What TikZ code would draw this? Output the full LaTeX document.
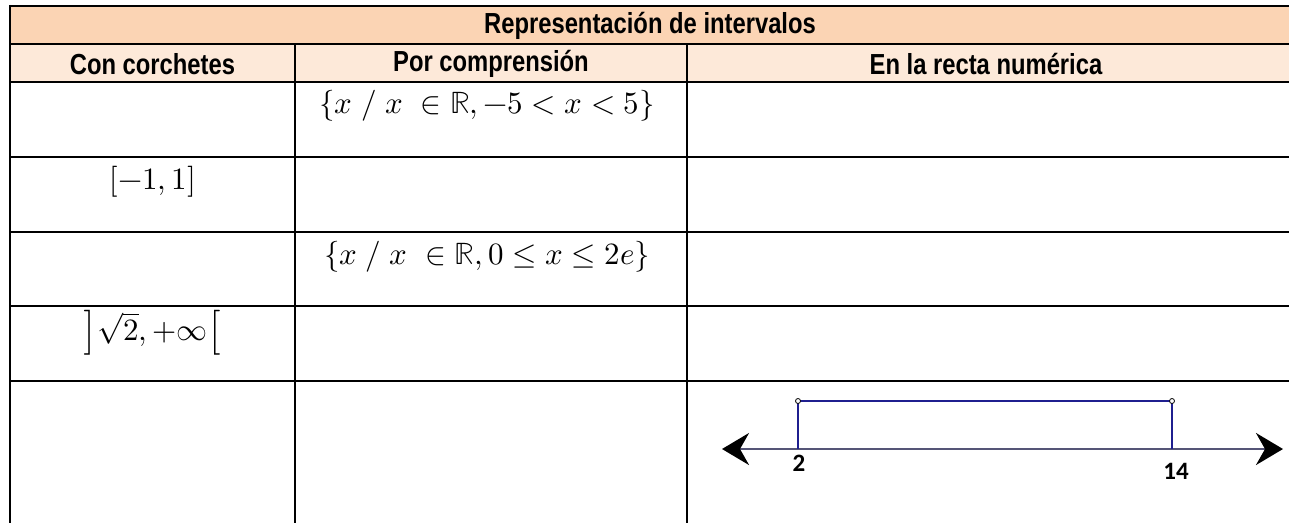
\documentclass[tikz,border=0pt]{standalone}
\usepackage{fontspec}
\usepackage{unicode-math}
\setmathfont{Latin Modern Math}
\usetikzlibrary{arrows.meta}
\newfontfamily\hdrfont{Liberation Sans}[FakeStretch=0.82]
\newfontfamily\lblfont{Carlito}
\definecolor{hdrA}{HTML}{FBD4B4}
\definecolor{hdrB}{HTML}{FDE9D9}
\definecolor{axisgray}{HTML}{555577}
\definecolor{ivblue}{HTML}{1F1F8F}
\tikzset{
  grid/.style={line width=2.5pt, black},
  hdr/.style={font=\hdrfont\bfseries\fontsize{29}{32}\selectfont, inner sep=0pt, anchor=center},
  mathtxt/.style={font=\fontsize{31}{34}\selectfont, inner sep=0pt, anchor=center},
  lbl/.style={font=\lblfont\bfseries\fontsize{25}{28}\selectfont, inner sep=0pt},
  ivline/.style={draw=ivblue, line width=1.5pt},
  endpt/.style={circle, draw=black, fill=white, line width=0.8pt, inner sep=0pt, minimum size=5pt},
}
\begin{document}
\begin{tikzpicture}[x=1pt,y=-1pt]
\useasboundingbox (0,0) rectangle (1289,523);
% header fills
\fill[hdrA] (10,6) rectangle (1289,44);
\fill[hdrB] (10,44) rectangle (1289,82);
% grid lines
\draw[grid] (10,6) -- (1289,6);
\draw[grid] (10,44) -- (1289,44);
\draw[grid] (10,82) -- (1289,82);
\draw[grid] (10,157) -- (1289,157);
\draw[grid] (10,232) -- (1289,232);
\draw[grid] (10,306) -- (1289,306);
\draw[grid] (10,381) -- (1289,381);
\draw[grid] (10,4.75) -- (10,523);
\draw[grid] (295,44) -- (295,523);
\draw[grid] (687,44) -- (687,523);
% header texts
\node[hdr] (title) at (650,26) {Representación de intervalos};
\node[hdr] (h1) at (152.5,64) {Con corchetes};
\node[hdr] (h2) at (491,64) {Por comprensión};
\node[hdr] (h3) at (986,64) {En la recta numérica};
% cells
\node[mathtxt] (c12) at (487,106) {$\{x\;/\;x\ \in\mathbb{R},-5<x<5\}$};
\node[mathtxt] (c21) at (152.5,182) {$[-1,1]$};
\node[mathtxt] (c32) at (487,257) {$\{x\;/\;x\ \in\mathbb{R},0\leq x\leq 2e\}$};
\node[mathtxt] (c41) at (152.5,333) {$\left]\sqrt{2},+\infty\right[$};
% number line
\coordinate (L) at (722,449);
\coordinate (R) at (1283,449);
\coordinate (a) at (798,449);
\coordinate (b) at (1172,449);
\draw[axisgray, line width=2.5pt, {Stealth[length=27pt,width=32pt,inset=9pt,black]}-{Stealth[length=27pt,width=32pt,inset=9pt,black]}] (L) -- (R);
\coordinate (at) at (798,401);
\coordinate (bt) at (1172,401);
\draw[ivline] (a) -- (at) -- (bt) -- (b);
\node[endpt] (ca) at (at) {};
\node[endpt] (cb) at (bt) {};
\node[lbl] (l2) at (799,463) {2};
\node[lbl] (l14) at (1176,471) {14};
\end{tikzpicture}
\end{document}
